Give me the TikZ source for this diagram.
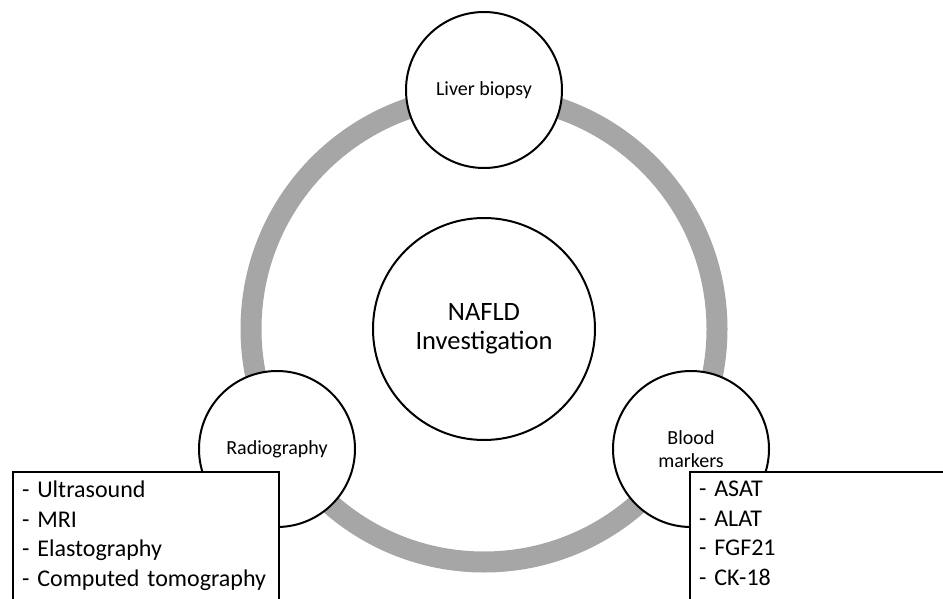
\documentclass[tikz,border=0pt]{standalone}
\usepackage{fontspec}
\setmainfont{Carlito}
\newcommand{\tailstrut}{\rule[-30pt]{0pt}{1pt}}
\begin{document}
\begin{tikzpicture}[x=1pt,y=-1pt,
  bubble/.style={circle,draw,line width=2pt,fill=white,minimum size=156pt,inner sep=0pt,align=center,font=\fontsize{20}{23}\selectfont},
  hub/.style={bubble,minimum size=222pt,font=\fontsize{26.5}{29}\selectfont},
  listbox/.style={draw,line width=2pt,fill=white,anchor=north west,align=left,inner xsep=9pt,inner ysep=9pt,font=\fontsize{24}{29.5}\selectfont},
  ring/.style={draw=gray!70,line width=21pt}]
\useasboundingbox (0,0) rectangle (943,599);
\clip (0,0) rectangle (943,599);
\coordinate (mid) at (484,329);
\draw[ring] (mid) circle (233pt);
\node[hub] (nafld) at (mid) {NAFLD\\Investigation};
\node[bubble] (biopsy) at (484,90) {Liver biopsy};
\node[bubble] (radio) at (277,449) {Radiography};
\node[bubble] (blood) at (691,449) {Blood\\markers};
\node[listbox,text width=248pt] (radlist) at (12,471) {- Ultrasound\\- MRI\\- Elastography\\- Computed tomography\tailstrut};
\node[listbox,text width=280pt] (bloodlist) at (689,471) {- ASAT\\- ALAT\\- FGF21\\- CK-18\tailstrut};
\end{tikzpicture}
\end{document}
